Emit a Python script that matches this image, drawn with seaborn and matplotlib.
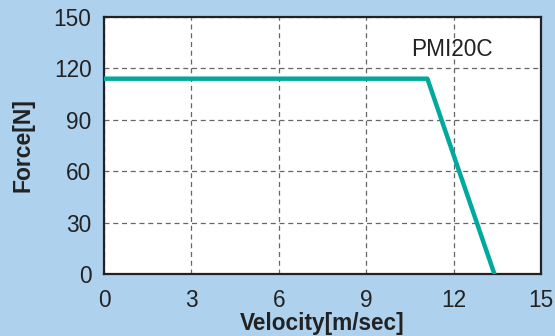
import numpy as np
import pandas as pd
import seaborn as sns
import matplotlib.pyplot as plt

# Force vs velocity curve
velocity = [0, 11.1, 13.4]
force = [114, 114, 0]
x_ticks = [0, 3, 6, 9, 12, 15]
y_ticks = [0, 30, 60, 90, 120, 150]
model = "PMI20C"

df = pd.DataFrame({"Velocity": velocity, "Force": force})

sns.set_style("white")
plt.rcParams['font.family'] = ['Liberation Sans', 'DejaVu Sans']

fig = plt.figure(figsize=(5.55, 3.36), dpi=100, facecolor="#aed1ee")
ax = fig.add_axes([0.1874, 0.1845, 0.7874, 0.7649])
ax.set_facecolor("white")

sns.lineplot(data=df, x="Velocity", y="Force", ax=ax, color="#00a99d",
             linewidth=3.2, sort=False, zorder=3)

ax.set_xlim(0, 15)
ax.set_ylim(0, 150)
ax.set_xticks(x_ticks)
ax.set_yticks(y_ticks)
ax.grid(True, linestyle=(0, (4, 3)), color="#666666", linewidth=0.9)
ax.tick_params(length=0, labelsize=16.3, colors="#222222", pad=9)
ax.tick_params(axis="x", pad=11)

for s in ax.spines.values():
    s.set_color("#222222")
    s.set_linewidth(1.6)

ax.set_xlabel("Velocity[m/sec]", fontsize=16.3, fontweight="bold", color="#222222", labelpad=0)
ax.set_ylabel("Force[N]", fontsize=16.5, fontweight="bold", color="#222222", labelpad=14)

ax.text(11.95, 131, model, fontsize=16.3, color="#222222", ha="center", va="center")

fig.savefig("out.png", dpi=100, facecolor=fig.get_facecolor())
